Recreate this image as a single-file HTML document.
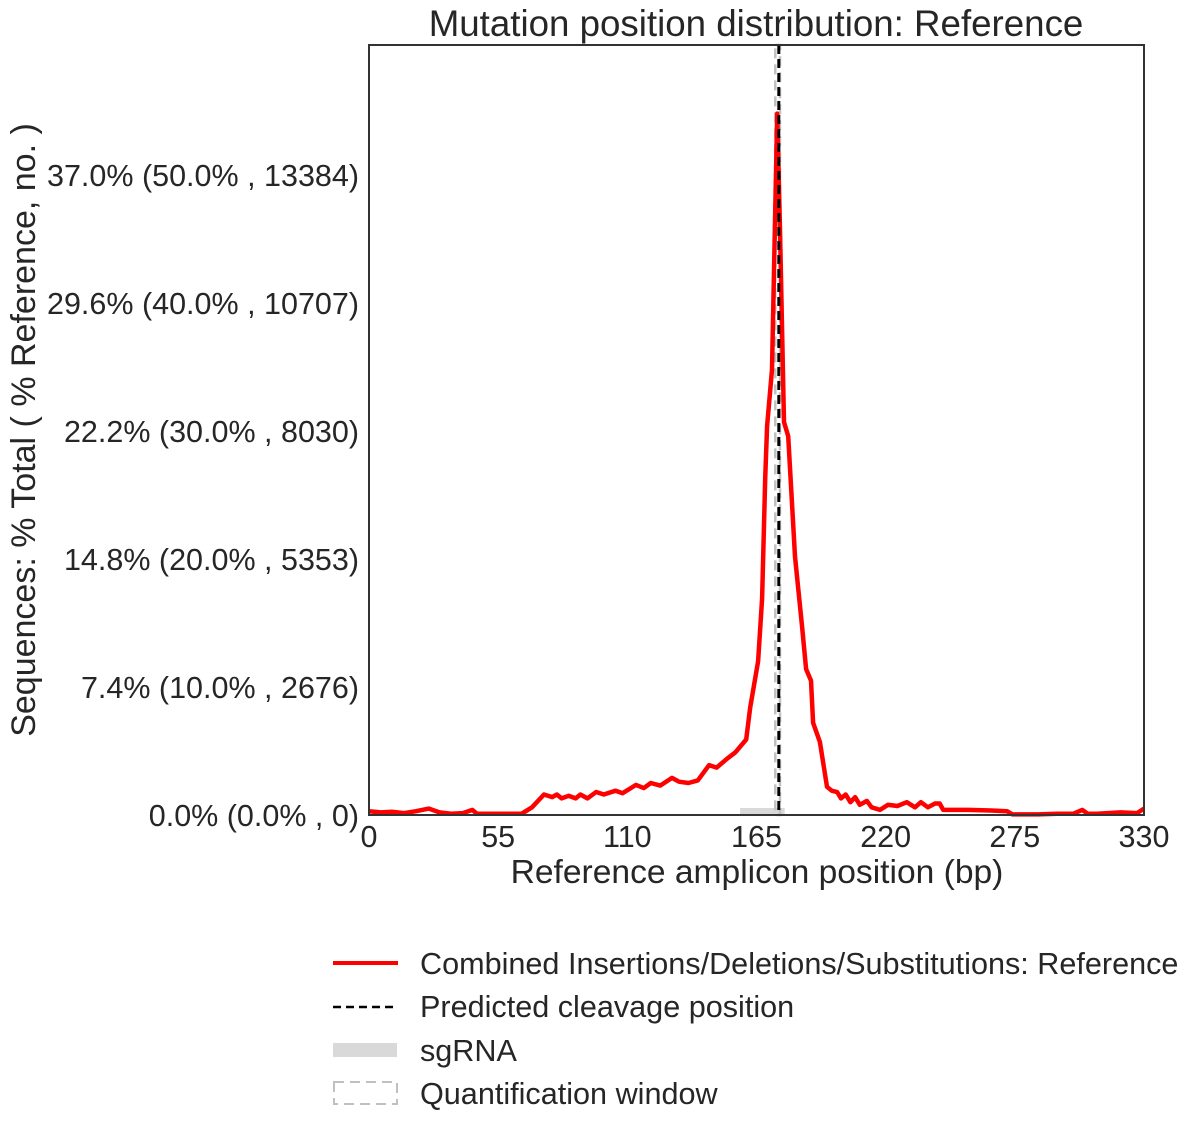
<!DOCTYPE html>
<html><head><meta charset="utf-8"><style>
body{margin:0;background:#fff;}
svg{display:block;font-family:"Liberation Sans",Arial,sans-serif;fill:#262626;}
</style></head><body>
<svg id="chart" width="1200" height="1132" viewBox="0 0 1200 1132">
<text x="756" y="36" font-size="36.7" text-anchor="middle">Mutation position distribution: Reference</text>
<g id="plot"></g>
<text x="757" y="883" font-size="33.6" text-anchor="middle">Reference amplicon position (bp)</text>
<text transform="translate(35,430) rotate(-90)" font-size="34" text-anchor="middle">Sequences: % Total ( % Reference, no. )</text>
<g>
<g><line x1="333" y1="963" x2="398" y2="963" stroke="#ff0000" stroke-width="4"/><text x="420" y="974" font-size="30.6">Combined Insertions/Deletions/Substitutions: Reference</text></g>
<g><line x1="333" y1="1007" x2="398" y2="1007" stroke="#000" stroke-width="2.5" stroke-dasharray="8,5"/><text x="420" y="1017" font-size="30.6">Predicted cleavage position</text></g>
<g><rect x="333" y="1043" width="64" height="14" fill="#d9d9d9"/><text x="420" y="1061" font-size="30.6">sgRNA</text></g>
<g><rect x="334" y="1082" width="63" height="22" fill="none" stroke="#c0c0c0" stroke-width="2" stroke-dasharray="10,6"/><text x="420" y="1104" font-size="30.6">Quantification window</text></g>
</g>
</svg>
<script>
const positions=[0,5,10,15,20,25.5,30,35,40,44,46,60,65,69.4,74.5,78,80,82,85,88,90,93,96.7,100,105,108,113.7,117,120,124,129,132,136,140,144.8,148,152.5,156,160.6,162.3,165.7,167.4,168.7,169.5,171.6,173.8,175,176.7,178.5,181.4,184.4,186.1,188.2,189.1,192,195,197,199.3,201,203,205,207,209,212,214,217.6,221,225,229,232.5,235,238,241,243,244.5,255,265,271.7,274,285,293,300,303.7,306,310,320,327,330];
const values=[0.3,0.2,0.25,0.15,0.3,0.5,0.2,0.1,0.15,0.4,0.1,0.1,0.1,0.6,1.6,1.4,1.6,1.3,1.5,1.3,1.6,1.3,1.8,1.6,1.9,1.7,2.35,2.1,2.5,2.3,2.9,2.6,2.5,2.7,3.9,3.7,4.4,4.9,5.9,8.4,12,16.9,26.3,30.4,34.8,54.8,45.7,30.7,29.6,20.2,14.7,11.4,10.5,7.2,5.7,2.2,1.9,1.8,1.3,1.6,1.0,1.4,0.8,1.1,0.6,0.4,0.8,0.7,1.0,0.6,1.0,0.6,0.9,0.9,0.4,0.4,0.35,0.3,0.05,0.05,0.1,0.1,0.4,0.1,0.1,0.2,0.15,0.5];
const xTicks=[0,55,110,165,220,275,330];
const yTicks=[0,10,20,30,40,50];
const yTickLabels=["0.0% (0.0% , 0)","7.4% (10.0% , 2676)","14.8% (20.0% , 5353)","22.2% (30.0% , 8030)","29.6% (40.0% , 10707)","37.0% (50.0% , 13384)"];
const sgRNA=[158,177];
const quantWindow=[173,175];
const cleavage=174.5;

const X0=369,X1=1144,Y0=815,Y1=45,XMAX=330,YMAX=60.16;
const sx=v=>X0+v/XMAX*(X1-X0);
const sy=v=>Y0-v/YMAX*(Y0-Y1);
const NS="http://www.w3.org/2000/svg";
const g=document.getElementById('plot');
function mk(t,a,p){const e=document.createElementNS(NS,t);for(const k in a)e.setAttribute(k,a[k]);(p||g).appendChild(e);return e;}

let e=mk('rect',{x:sx(sgRNA[0]),y:sy(0)-7,width:sx(sgRNA[1])-sx(sgRNA[0]),height:7,fill:'#d9d9d9'});


e=mk('rect',{x:sx(quantWindow[0]),y:Y1,width:sx(quantWindow[1])-sx(quantWindow[0]),height:Y0-Y1,fill:'none',stroke:'#c0c0c0','stroke-width':2.5,'stroke-dasharray':'10,6'});



const pts=positions.map((p,i)=>sx(p).toFixed(1)+','+sy(values[i]).toFixed(1)).join(' ');
e=mk('polyline',{points:pts,fill:'none',stroke:'#ff0000','stroke-width':4.5,'stroke-linejoin':'round'});



e=mk('line',{x1:sx(cleavage),x2:sx(cleavage),y1:Y1,y2:Y0,stroke:'#000','stroke-width':3,'stroke-dasharray':'9,5'});



e=mk('rect',{x:X0,y:Y1,width:X1-X0,height:Y0-Y1,fill:'none',stroke:'#333','stroke-width':2});



xTicks.forEach(t=>{
  const tx=mk('text',{x:sx(t),y:847,'font-size':30.5,'text-anchor':'middle'});
  tx.textContent=t;
  
  
});
yTicks.forEach((t,i)=>{
  const tx=mk('text',{x:359,y:sy(t)+11,'font-size':30.5,'text-anchor':'end'});
  tx.textContent=yTickLabels[i];
  
  
});
</script>
</body></html>
